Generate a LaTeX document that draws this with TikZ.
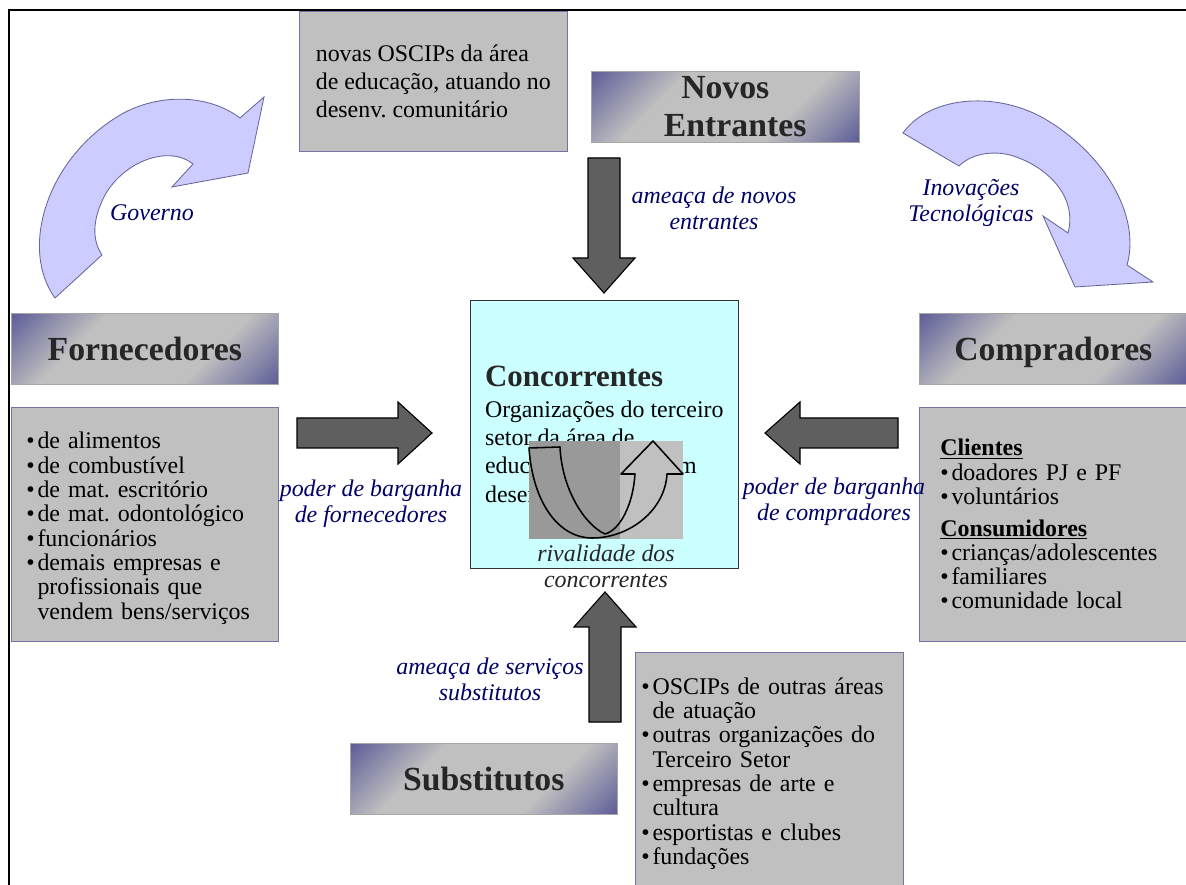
\documentclass[tikz,border=0pt]{standalone}
\usepackage{fontspec}
\setmainfont{Liberation Serif}
\frenchspacing

\definecolor{boxgray}{HTML}{C0C0C0}
\definecolor{boxline}{HTML}{7373A6}
\definecolor{hdrblue}{HTML}{5F5F99}
\definecolor{hdrline}{HTML}{A6A6A6}
\definecolor{hdrtext}{HTML}{262626}
\definecolor{concfill}{HTML}{CCFFFF}
\definecolor{arrgray}{HTML}{5F5F5F}
\definecolor{curvfill}{HTML}{CCCCFF}
\definecolor{curvline}{HTML}{666699}
\definecolor{lblblue}{HTML}{000066}
\definecolor{ovldark}{HTML}{999999}

\pgfdeclarehorizontalshading{hdrshade}{100bp}{color(0bp)=(hdrblue); color(15bp)=(hdrblue);
 color(35bp)=(boxgray); color(65bp)=(boxgray); color(85bp)=(hdrblue); color(100bp)=(hdrblue)}

\newcommand{\itm}{\makebox[8pt][l]{\textbullet}}
\newcommand{\ind}{\hspace*{8pt}}

\tikzset{
hdr-box/.style={draw=hdrline, shade, shading=hdrshade, shading angle=-45,
 minimum width=6.675cm, minimum height=1.775cm, anchor=north west, inner sep=0pt,
 text depth=0pt, text=hdrtext, align=center, font={\fontsize{24}{27}\selectfont\bfseries}},
list-box/.style={draw=boxline, fill=boxgray, anchor=north west, align=left,
 minimum height=5.85cm, inner ysep=0pt, font={\fontsize{17}{17.3}\selectfont}},
blk-arr/.style={draw=black, fill=arrgray, line width=0.8pt},
curv-arr/.style={draw=curvline, fill=curvfill, line width=0.6pt},
lbl/.style={text=lblblue, align=center, inner sep=0pt,
 font={\fontsize{17}{18.5}\selectfont\itshape}}
}

\begin{document}
\begin{tikzpicture}[x=0.025cm, y=-0.025cm]

\fill[white] (0,0) rectangle (1186,885);
\useasboundingbox (0,0) rectangle (1186,885);

\draw[line width=2pt] (9,890) -- (9,10) -- (1190,10);


\node [list-box, minimum width=6.7cm, minimum height=3.5cm, inner xsep=0pt,
font={\fontsize{17}{20.2}\selectfont}] (novas)
 at (299,11) {novas OSCIPs da área\\ de educação, atuando no\\ desenv. comunitário};


\node [hdr-box, minimum width=6.7cm] (novos) at (591,71) {Novos\\ \hspace*{14pt}Entrantes};

\node [hdr-box] (forn) at (11,313) {Fornecedores};

\node [hdr-box, minimum width=6.7cm] (comp) at (919,313) {Compradores};

\node [hdr-box] (subs) at (350,743) {Substitutos};


\node [list-box, minimum width=6.675cm, text width=5.925cm, inner xsep=0.375cm] (forn-list)
 at (11,407) {\rule{0pt}{17.4pt}\itm de alimentos\\ \itm de combustível\\ \itm de mat. escritório\\
\itm de mat. odontológico\\ \itm funcionários\\ \itm demais empresas e\\
\ind profissionais que\\ \ind vendem bens/serviços};


\node [list-box, minimum width=6.9cm, text width=5.85cm, inner xsep=0.525cm] (comp-list)
 at (919,407) {\underline{\textbf{Clientes}}\\ \itm doadores PJ e PF\\ \itm voluntários\\[5pt]
\underline{\textbf{Consumidores}}\\ \itm crianças/adolescentes\\ \itm familiares\\
\itm comunidade local};


\node [list-box, minimum width=6.7cm, minimum height=5.95cm, text width=6.4cm,
inner xsep=0.15cm] (subs-list)
 at (635,652) {\rule{0pt}{15pt}\itm OSCIPs de outras áreas\\ \ind de atuação\\ \itm outras organizações do\\
\ind Terceiro Setor\\ \itm empresas de arte e\\ \ind cultura\\ \itm esportistas e clubes\\
\itm fundações};


\node [draw=black!80, fill=concfill, anchor=north west, minimum width=6.7cm,
minimum height=6.7cm, align=left, inner sep=0pt, font={\fontsize{17}{20}\selectfont}] (conc)
 at (470,300) {{\fontsize{22}{22}\selectfont\bfseries\color{hdrtext}Concorrentes}\\[2pt]
Organizações do terceiro\\ setor da área de\\ educação, atuando em\\ desenv. comunitário};


%\draw (forn) -- (conc);
%\draw (comp) -- (conc);

\draw [blk-arr] (588,158) -- (620,158) -- (620,258) -- (635,258) -- (604,293)
 -- (573,258) -- (588,258) -- cycle;

\draw [blk-arr] (589,722) -- (621,722) -- (621,627) -- (636,627) -- (605,592)
 -- (574,627) -- (589,627) -- cycle;

\draw [blk-arr] (297,418) -- (398,418) -- (398,402) -- (432,433) -- (398,464)
 -- (398,448) -- (297,448) -- cycle;

\draw [blk-arr] (898,418) -- (800,418) -- (800,402) -- (765,433) -- (800,464)
 -- (800,448) -- (898,448) -- cycle;


\draw [curv-arr] (55,298) .. controls (20,250) and (45,160) .. (120,115)
 .. controls (160,92) and (210,95) .. (240,118) -- (264,97) -- (248,173) -- (172,187)
 -- (193,164) .. controls (170,145) and (125,160) .. (105,195)
 .. controls (92,220) and (92,240) .. (102,255) -- cycle;

\draw [curv-arr] (903,133) .. controls (930,95) and (1000,90) .. (1050,122)
 .. controls (1110,160) and (1140,220) .. (1127,265) -- (1153,282) -- (1075,287)
 -- (1043,216) -- (1068,233) .. controls (1078,195) and (1045,165) .. (1010,155)
 .. controls (990,150) and (970,155) .. (959,166) -- cycle;


\fill [ovldark] (529,441) rectangle (620,539);
\fill [boxgray] (620,441) rectangle (683,539);

\draw [line width=1.1pt, line join=round] (529,448) .. controls (533,505) and (560,538) .. (592,538)
 .. controls (630,538) and (665,510) .. (667,474) -- (683,474) -- (653,441) -- (621,474)
 -- (635,474) .. controls (633,505) and (620,530) .. (605,534)
 .. controls (585,525) and (562,490) .. (560,447) -- cycle;


\node [lbl] (lbl-gov) at (152,213) {Governo};

\node [lbl] (lbl-inov) at (971,203) {Inovações\\ Tecnológicas};

\node [lbl] (lbl-novos) at (714,208) {ameaça de novos\\ entrantes};

\node [lbl] (lbl-forn) at (371,504) {poder de barganha\\ de fornecedores};

\node [lbl] (lbl-comp) at (834,502) {poder de barganha\\ de compradores};

\node [lbl] (lbl-subs) at (490,679) {ameaça de serviços\\ substitutos};

\node [lbl, text=black!85] (lbl-conc) at (606,566) {rivalidade dos\\ concorrentes};

\end{tikzpicture}
\end{document}
